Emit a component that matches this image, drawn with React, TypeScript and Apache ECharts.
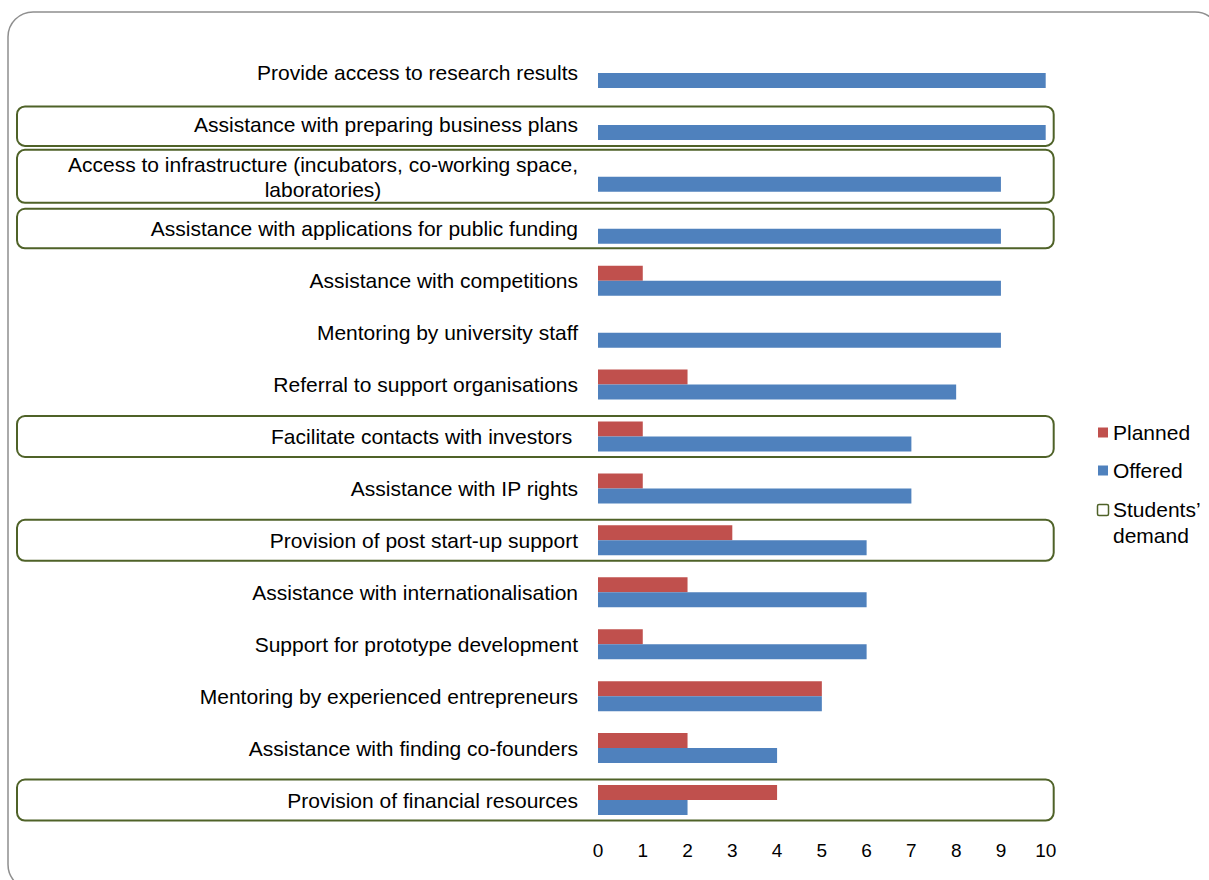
import React, { useEffect, useRef } from "react";
import * as echarts from "echarts";

const categories = [
  "Provide access to research results",
  "Assistance with preparing business plans",
  "Access to infrastructure (incubators, co-working space,\nlaboratories)",
  "Assistance with applications for public funding",
  "Assistance with competitions",
  "Mentoring by university staff",
  "Referral to support organisations",
  "Facilitate contacts with investors ",
  "Assistance with IP rights",
  "Provision of post start-up support",
  "Assistance with internationalisation",
  "Support for prototype development",
  "Mentoring by experienced entrepreneurs",
  "Assistance with finding co-founders",
  "Provision of financial resources",
];

const planned = [0, 0, 0, 0, 1, 0, 2, 1, 1, 3, 2, 1, 5, 2, 4];
const offered = [10, 10, 9, 9, 9, 9, 8, 7, 7, 6, 6, 6, 5, 4, 2];

// categories flagged as students' demand (boxed)
const studentsDemand = [1, 2, 3, 7, 9, 14];

const seriesNames = ["Planned", "Offered"];
const demandLabel = ["Students\u2019", "demand"];

const FONT = "'Liberation Sans', Arial, sans-serif";
const RED = "#C0504D";
const BLUE = "#4F81BD";
const GREEN = "#4F6228";

// box vertical extents relative to category centre (top, bottom)
const boxExtent: Record<number, [number, number]> = {
  1: [-18.5, 21],
  2: [-27, 26],
  3: [-20, 19.5],
};
const defaultExtent: [number, number] = [-20.5, 20.5];

export default function App() {
  const ref = useRef<HTMLDivElement>(null);

  useEffect(() => {
    if (!ref.current) return;
    const chart = echarts.init(ref.current, null, { renderer: "svg" });
    const option: any = {
      animation: false,
      backgroundColor: "#fff",
      textStyle: { fontFamily: FONT },
      grid: { left: 598, top: 47, width: 447.7, height: 779, containLabel: false },
      legend: {
        orient: "vertical",
        left: 1098,
        top: 422,
        padding: 0,
        itemWidth: 10,
        itemHeight: 10,
        itemGap: 17,
        icon: "rect",
        data: seriesNames,
        textStyle: { fontSize: 21, lineHeight: 20, color: "#000", fontFamily: FONT },
      },
      xAxis: {
        type: "value",
        min: 0,
        max: 10,
        interval: 1,
        axisLine: { show: false },
        axisTick: { show: false },
        splitLine: { show: false },
        axisLabel: { fontSize: 19, color: "#000", margin: 15, fontFamily: FONT },
      },
      yAxis: {
        type: "category",
        inverse: true,
        data: categories,
        axisLine: { show: false },
        axisTick: { show: false },
        splitLine: { show: false },
        axisLabel: {
          fontSize: 21,
          color: "#000",
          margin: 20,
          lineHeight: 25,
          fontFamily: FONT,
          formatter: (v: string) => {
            const parts = v.split("\n");
            if (parts.length > 1) return parts[0] + "\n{c|" + parts[1] + "}";
            return v;
          },
          rich: { c: { align: "center", fontSize: 21, color: "#000", lineHeight: 25, fontFamily: FONT } },
        },
      },
      series: [
        {
          name: seriesNames[0],
          type: "bar",
          data: planned,
          barWidth: 15,
          barGap: "0%",
          itemStyle: { color: RED },
        },
        {
          name: seriesNames[1],
          type: "bar",
          data: offered,
          barWidth: 15,
          barGap: "0%",
          itemStyle: { color: BLUE },
        },
      ],
    };
    chart.setOption(option);

    const xRight = (chart.convertToPixel({ xAxisIndex: 0 }, 10) as number) + 8;
    const boxLeft = 17;
    const boxes = studentsDemand.map((idx) => {
      const cy = chart.convertToPixel({ yAxisIndex: 0 }, idx) as number;
      const ext = boxExtent[idx] || defaultExtent;
      return {
        type: "rect",
        silent: true,
        z: 10,
        shape: { x: boxLeft, y: cy + ext[0], width: xRight - boxLeft, height: ext[1] - ext[0], r: 8 },
        style: { fill: "none", stroke: GREEN, lineWidth: 2 },
      };
    });

    chart.setOption({
      graphic: [
        {
          type: "rect",
          silent: true,
          shape: { x: 8, y: 12, width: 1212, height: 877.6, r: 25 },
          style: { fill: "none", stroke: "#8f8f8f", lineWidth: 1.5 },
        },
        ...boxes,
        {
          type: "rect",
          silent: true,
          shape: { x: 1097.5, y: 504.5, width: 11, height: 11, r: 1.5 },
          style: { fill: "#fff", stroke: GREEN, lineWidth: 1.5 },
        },
        {
          type: "text",
          silent: true,
          x: 1113,
          y: 509,
          style: {
            text: demandLabel[0],
            fontSize: 21,
            fontFamily: FONT,
            fill: "#000",
            verticalAlign: "middle",
            align: "left",
          },
        },
        {
          type: "text",
          silent: true,
          x: 1113,
          y: 535,
          style: {
            text: demandLabel[1],
            fontSize: 21,
            fontFamily: FONT,
            fill: "#000",
            verticalAlign: "middle",
            align: "left",
          },
        },
      ],
    });

    return () => chart.dispose();
  }, []);

  return (
    <div
      ref={ref}
      style={{ position: "fixed", left: 0, top: 0, width: 1209, height: 880, background: "#fff" }}
    />
  );
}
